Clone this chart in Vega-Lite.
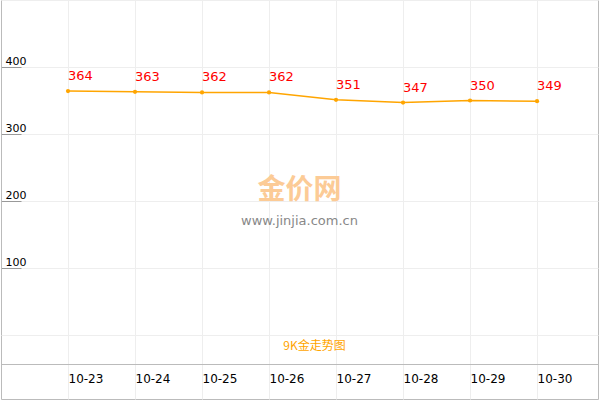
{
  "$schema": "https://vega.github.io/schema/vega-lite/v6.json",
  "width": 597,
  "height": 399,
  "autosize": "none",
  "padding": {"left": 1, "top": 0, "right": 2, "bottom": 1},
  "background": "white",
  "title": {
    "text": "金价网",
    "subtitle": "www.jinjia.com.cn",
    "orient": "top",
    "anchor": "middle",
    "frame": "group",
    "offset": -228,
    "font": "Noto Sans CJK SC",
    "fontSize": 28,
    "fontWeight": "bold",
    "color": "#FCCB96",
    "subtitleFont": "DejaVu Sans",
    "subtitleFontSize": 13,
    "subtitleColor": "#888888",
    "subtitlePadding": 10
  },
  "data": {
    "values": [
      {"date": "2024-10-23", "price": 364},
      {"date": "2024-10-24", "price": 363},
      {"date": "2024-10-25", "price": 362},
      {"date": "2024-10-26", "price": 362},
      {"date": "2024-10-27", "price": 351},
      {"date": "2024-10-28", "price": 347},
      {"date": "2024-10-29", "price": 350},
      {"date": "2024-10-30", "price": 349}
    ]
  },
  "encoding": {
    "x": {
      "field": "date",
      "type": "temporal",
      "scale": {
        "type": "utc",
        "domain": [
          {"year": 2024, "month": 10, "date": 22, "utc": true},
          {"year": 2024, "month": 10, "date": 30, "hours": 21, "minutes": 50, "utc": true}
        ]
      },
      "axis": {
        "values": [
          {"year": 2024, "month": 10, "date": 23, "utc": true},
          {"year": 2024, "month": 10, "date": 24, "utc": true},
          {"year": 2024, "month": 10, "date": 25, "utc": true},
          {"year": 2024, "month": 10, "date": 26, "utc": true},
          {"year": 2024, "month": 10, "date": 27, "utc": true},
          {"year": 2024, "month": 10, "date": 28, "utc": true},
          {"year": 2024, "month": 10, "date": 29, "utc": true},
          {"year": 2024, "month": 10, "date": 30, "utc": true}
        ],
        "labelExpr": "utcFormat(datum.value, '%m-%d')",
        "offset": -35,
        "ticks": false,
        "domainColor": "#bbbbbb",
        "grid": true,
        "gridColor": "#eeeeee",
        "labelAlign": "left",
        "labelBaseline": "top",
        "labelPadding": 9,
        "labelFont": "DejaVu Sans",
        "labelFontSize": 12,
        "labelFontWeight": "normal",
        "labelColor": "#000000",
        "title": "9K金走势图",
        "titleFont": "Noto Sans CJK SC",
        "titleFontSize": 12,
        "titleFontWeight": "normal",
        "titleColor": "#FFA500",
        "titleBaseline": "middle",
        "titleAnchor": "middle",
        "titleX": 313,
        "titleY": -19
      }
    },
    "y": {
      "field": "price",
      "type": "quantitative",
      "scale": {"domain": [-95.5, 500], "nice": false, "zero": false},
      "axis": {
        "values": [0, 100, 200, 300, 400, 500],
        "title": null,
        "domain": false,
        "grid": true,
        "gridColor": "#eeeeee",
        "tickSize": -20,
        "tickColor": {
          "condition": {"test": "datum.value >= 100 && datum.value <= 400", "value": "#999999"},
          "value": "transparent"
        },
        "labelExpr": "datum.value >= 100 && datum.value <= 400 ? datum.label : ''",
        "labelAlign": "left",
        "labelBaseline": "bottom",
        "labelPadding": 16,
        "labelOffset": -1,
        "labelFont": "DejaVu Sans",
        "labelFontSize": 11,
        "labelColor": "#000000"
      }
    }
  },
  "layer": [
    {
      "mark": {
        "type": "line",
        "color": "#FFA500",
        "strokeWidth": 1.5,
        "point": {"filled": true, "size": 18, "color": "#FFA500"}
      }
    },
    {
      "mark": {
        "type": "text",
        "align": "left",
        "baseline": "bottom",
        "dy": -8,
        "color": "#FF0000",
        "font": "DejaVu Sans",
        "fontSize": 13
      },
      "encoding": {"text": {"field": "price", "type": "quantitative"}}
    }
  ],
  "config": {
    "view": {"stroke": "#bbbbbb", "strokeWidth": 1}
  }
}
